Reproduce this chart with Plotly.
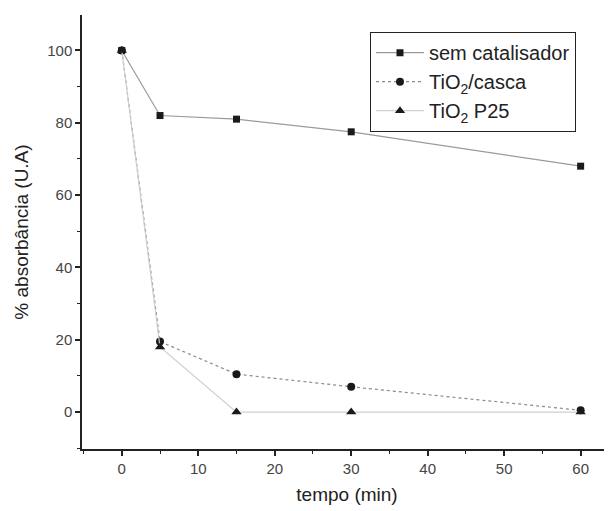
import plotly.graph_objects as go

tempo = [0, 5, 15, 30, 60]
sem_catalisador = [100, 82, 81, 77.5, 68]
tio2_casca = [100, 19.5, 10.5, 7, 0.5]
tio2_p25 = [100, 18, 0, 0, 0]

fig = go.Figure()
fig.add_trace(go.Scatter(x=tempo, y=sem_catalisador, name="sem catalisador", mode="lines+markers",
                         line=dict(color="#9a9a9a", width=1.2),
                         marker=dict(symbol="square", size=7, color="#1a1a1a")))
fig.add_trace(go.Scatter(x=tempo, y=tio2_casca, name="TiO<sub>2</sub>/casca", mode="lines+markers",
                         line=dict(color="#8a8a8a", width=1.2, dash="dot"),
                         marker=dict(symbol="circle", size=8, color="#1a1a1a")))
fig.add_trace(go.Scatter(x=tempo, y=tio2_p25, name="TiO<sub>2</sub> P25", mode="lines+markers",
                         line=dict(color="#cfcfcf", width=1.2),
                         marker=dict(symbol="triangle-up", size=9, color="#1a1a1a")))

fig.update_layout(
    width=604, height=503,
    margin=dict(l=74, r=0, t=7, b=62),
    paper_bgcolor="white", plot_bgcolor="white",
    font=dict(family="Liberation Sans, Arial", size=15, color="#333333"),
    showlegend=True,
    legend=dict(x=0.543, y=0.961, xanchor="left", yanchor="top",
                bordercolor="#222222", borderwidth=1.2, bgcolor="white",
                font=dict(size=20, color="#222222"), tracegroupgap=0,
                itemwidth=48),
    xaxis=dict(range=[-5.2, 64.1], showline=True, linecolor="#222222", linewidth=1.5,
               showgrid=False, zeroline=False, ticks="outside", ticklen=5, tickwidth=1.5,
               tickcolor="#222222", tickvals=[0, 10, 20, 30, 40, 50, 60],
               minor=dict(ticks="outside", ticklen=3, tickwidth=1.2, tickcolor="#222222", dtick=5, showgrid=False),
               title=dict(text="tempo (min)", font=dict(size=19, color="#222222"), standoff=12),
               tickfont=dict(size=15, color="#444444")),
    yaxis=dict(range=[-10.2, 109.8], showline=True, linecolor="#222222", linewidth=1.5,
               showgrid=False, zeroline=False, ticks="outside", ticklen=5, tickwidth=1.5,
               tickcolor="#222222", tickvals=[0, 20, 40, 60, 80, 100],
               minor=dict(ticks="outside", ticklen=3, tickwidth=1.2, tickcolor="#222222", dtick=10, showgrid=False),
               title=dict(text="% absorbância (U.A)", font=dict(size=19, color="#222222"), standoff=14),
               tickfont=dict(size=15, color="#444444")),
)

fig.write_html("out.html")
